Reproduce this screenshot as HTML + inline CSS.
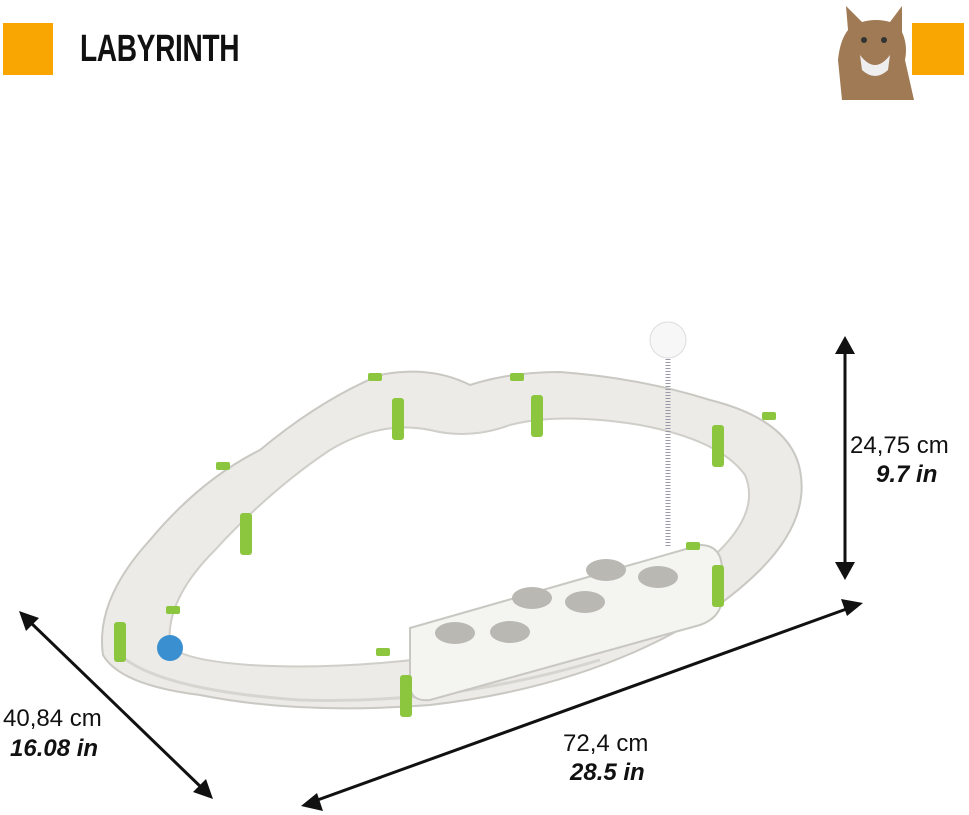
<!DOCTYPE html>
<html><head><meta charset="utf-8"><style>
html,body{margin:0;padding:0;background:#fff;}
body{width:969px;height:815px;position:relative;overflow:hidden;font-family:"Liberation Sans",sans-serif;}
.t{position:absolute;color:#111;font-size:24px;white-space:nowrap;}
.i{font-style:italic;font-weight:bold;}
</style></head><body>
<div style="position:absolute;left:3px;top:23px;width:50px;height:52px;background:#f9a602"></div>
<div style="position:absolute;left:912px;top:23px;width:52px;height:52px;background:#f9a602"></div>
<div style="position:absolute;left:80px;top:28px;font-size:38px;font-weight:bold;color:#111;transform:scaleX(0.74);transform-origin:left top;letter-spacing:-0.5px">LABYRINTH</div>
<svg style="position:absolute;left:0;top:0" width="969" height="815">
<path d="M842 100 L838 60 Q840 40 848 30 L846 6 L862 22 Q876 18 890 22 L902 6 L902 32 Q908 45 905 60 L914 100 Z" fill="#a07a55"/>
<path d="M860 55 Q875 75 890 55 L888 70 Q875 82 862 70Z" fill="#eee"/>
<circle cx="864" cy="40" r="3" fill="#333"/><circle cx="884" cy="40" r="3" fill="#333"/>
<path d="M103 655 Q95 600 150 540 Q200 480 260 450 Q320 400 380 375 Q430 365 470 385 Q510 372 560 372 Q640 378 710 400 Q790 420 800 470 Q810 520 760 570 Q720 610 660 640 Q560 690 430 705 Q300 715 200 695 Q120 685 103 655Z" fill="#ecebe7" stroke="#c9c8c2" stroke-width="2"/>
<path d="M170 645 Q165 600 215 550 Q270 490 330 450 Q380 420 430 430 Q470 440 510 425 Q560 412 640 425 Q720 440 745 475 Q760 510 720 550 Q680 590 600 620 Q520 650 430 658 Q330 670 250 665 Q180 660 170 645Z" fill="#fff" stroke="#cfcec8" stroke-width="2"/>
<path d="M120 655 Q160 690 300 700 Q450 705 600 660" fill="none" stroke="#d6d5cf" stroke-width="3"/>
<path d="M410 628 L700 545 Q722 545 722 570 L722 600 Q720 618 700 625 L430 700 Q410 702 410 685Z" fill="#f4f4f1" stroke="#c8c7c1" stroke-width="2"/>
<g fill="#b9b8b2">
<ellipse cx="455" cy="633" rx="20" ry="11"/><ellipse cx="510" cy="632" rx="20" ry="11"/>
<ellipse cx="532" cy="598" rx="20" ry="11"/><ellipse cx="585" cy="602" rx="20" ry="11"/>
<ellipse cx="606" cy="570" rx="20" ry="11"/><ellipse cx="658" cy="577" rx="20" ry="11"/>
</g>
<line x1="668" y1="350" x2="668" y2="548" stroke="#99a" stroke-width="5" stroke-dasharray="1 2"/>
<circle cx="668" cy="340" r="18" fill="#f7f7f7" stroke="#ddd"/>
<circle cx="170" cy="648" r="13" fill="#3a8fd0"/>
<g fill="#8cc63f">
<rect x="114" y="622" width="12" height="40" rx="3"/>
<rect x="240" y="513" width="12" height="42" rx="3"/>
<rect x="392" y="398" width="12" height="42" rx="3"/>
<rect x="531" y="395" width="12" height="42" rx="3"/>
<rect x="712" y="425" width="12" height="42" rx="3"/>
<rect x="712" y="565" width="12" height="42" rx="3"/>
<rect x="400" y="675" width="12" height="42" rx="3"/>
<rect x="368" y="373" width="14" height="8" rx="2"/>
<rect x="510" y="373" width="14" height="8" rx="2"/>
<rect x="762" y="412" width="14" height="8" rx="2"/>
<rect x="686" y="542" width="14" height="8" rx="2"/>
<rect x="376" y="648" width="14" height="8" rx="2"/>
<rect x="166" y="606" width="14" height="8" rx="2"/>
<rect x="216" y="462" width="14" height="8" rx="2"/>
</g>
<g stroke="#111" stroke-width="3" fill="#111">
<line x1="845" y1="348" x2="845" y2="568"/>
<line x1="28" y1="620" x2="204" y2="790"/>
<line x1="312" y1="802" x2="852" y2="607"/>
</g>
<g fill="#111">
<path d="M845 336 L835 354 L855 354Z"/><path d="M845 580 L835 562 L855 562Z"/>
<path d="M19 611 L26 631 L39 618Z"/><path d="M213 799 L193 792 L206 779Z"/>
<path d="M301 806 L317 793 L323 811Z"/><path d="M863 603 L841 599 L847 616Z"/>
</g>
</svg>
<div class="t" style="left:850px;top:432px">24,75 cm</div>
<div class="t i" style="left:876px;top:461px">9.7 in</div>
<div class="t" style="left:3px;top:705px">40,84 cm</div>
<div class="t i" style="left:10px;top:735px">16.08 in</div>
<div class="t" style="left:563px;top:730px">72,4 cm</div>
<div class="t i" style="left:570px;top:759px">28.5 in</div>
</body></html>
